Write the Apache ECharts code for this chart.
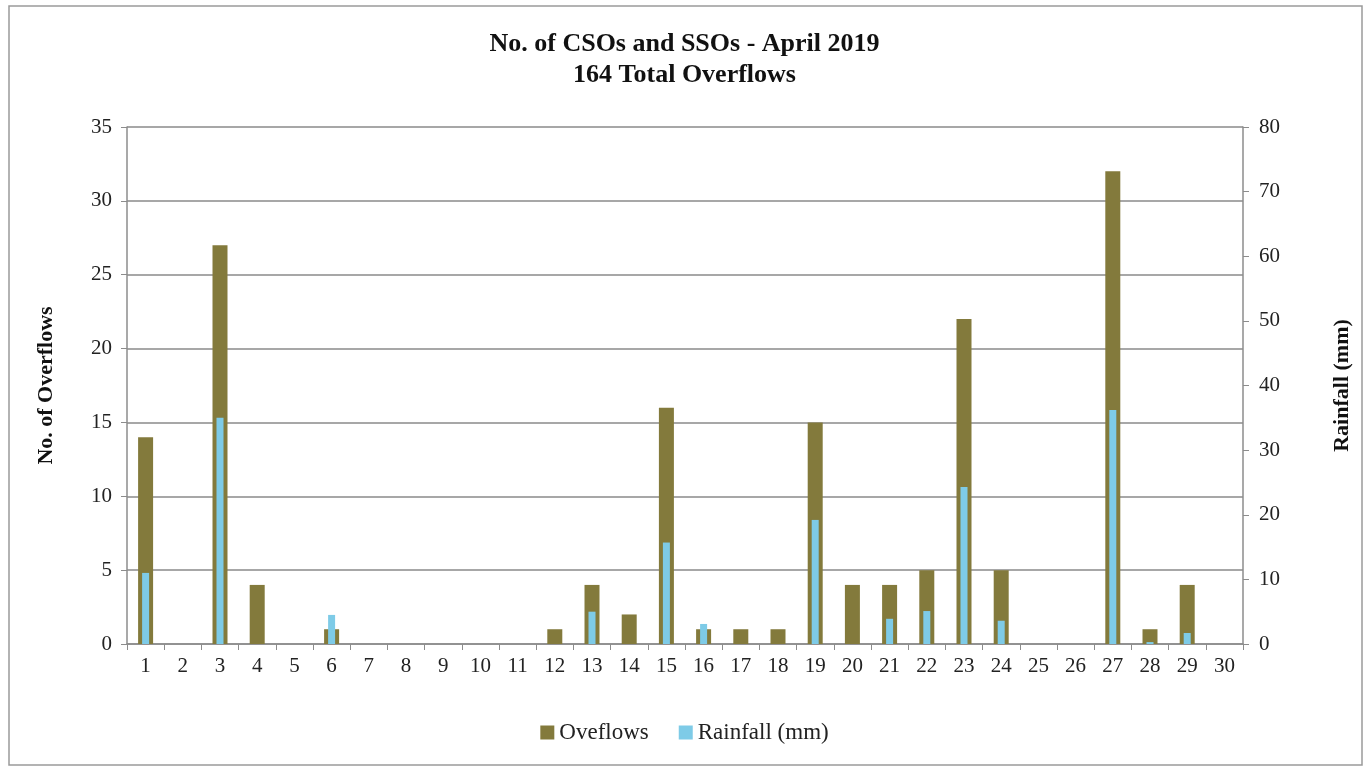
<!DOCTYPE html>
<html>
<head>
<meta charset="utf-8">
<script src="https://cdn.jsdelivr.net/npm/echarts@6/dist/echarts.min.js"></script>
<style>html,body{margin:0;padding:0;background:#fff}#c{width:1369px;height:770px}</style>
</head>
<body>
<div id="c"></div>
<script>
var days = ['1','2','3','4','5','6','7','8','9','10','11','12','13','14','15','16','17','18','19','20','21','22','23','24','25','26','27','28','29','30'];
var overflows = [14,0,27,4,0,1,0,0,0,0,0,1,4,2,16,1,1,1,15,4,4,5,22,5,0,0,32,1,4,0];
var rainfall = [11,0,35,0,0,4.5,0,0,0,0,0,0,5,0,15.7,3.1,0,0,19.2,0,3.9,5.1,24.3,3.6,0,0,36.2,0.3,1.7,0];
var leftTicks = [0,5,10,15,20,25,30,35];
var rightTicks = [0,10,20,30,40,50,60,70,80];

var serif = '"Liberation Serif","Times New Roman",serif';
var chart = echarts.init(document.getElementById('c'));
chart.setOption({
  animation: false,
  backgroundColor: '#fff',
  graphic: [{type:'rect', shape:{x:9,y:6,width:1353,height:759}, style:{fill:'none', stroke:'#9a9a9a', lineWidth:1.5}, silent:true}],
  title: {
    text: 'No. of CSOs and SSOs - April 2019\n164 Total Overflows',
    left: 'center', top: 24,
    textStyle: {fontFamily: serif, fontWeight: 'bold', fontSize: 26, lineHeight: 31, color: '#111'}
  },
  legend: {
    bottom: 21, left: 'center',
    itemWidth: 14, itemHeight: 14, itemGap: 30,
    textStyle: {fontFamily: serif, fontSize: 23, color: '#222'},
    data: [{name:'Oveflows', icon:'rect'}, {name:'Rainfall (mm)', icon:'rect'}]
  },
  grid: {left: 127, right: 126, top: 127, bottom: 126},
  xAxis: [{
    type: 'category', data: days,
    axisLine: {lineStyle: {color: '#8c8c8c', width: 1.5}},
    axisTick: {show: true, alignWithLabel: false, length: 6, lineStyle: {color:'#8c8c8c'}},
    axisLabel: {fontFamily: serif, fontSize: 21, color: '#222', margin: 12, interval: 0}
  }, {
    type: 'category', data: days, show: false
  }],
  yAxis: [{
    type: 'value', min: 0, max: 35, interval: 5,
    name: 'No. of Overflows', nameLocation: 'middle', nameGap: 70,
    nameTextStyle: {fontFamily: serif, fontWeight: 'bold', fontSize: 22, color: '#111'},
    axisLine: {show: true, lineStyle: {color: '#8c8c8c', width: 1.5}},
    axisTick: {show: true, length: 6, lineStyle: {color:'#8c8c8c'}},
    axisLabel: {fontFamily: serif, fontSize: 21, color: '#222', margin: 15},
    splitLine: {show: true, lineStyle: {color: '#8a8a8a', width: 1.5}}
  }, {
    type: 'value', min: 0, max: 80, interval: 10, position: 'right',
    name: 'Rainfall (mm)', nameLocation: 'middle', nameGap: 88,
    nameTextStyle: {fontFamily: serif, fontWeight: 'bold', fontSize: 22, color: '#111'},
    axisLine: {show: true, lineStyle: {color: '#8c8c8c', width: 1.5}},
    axisTick: {show: true, length: 6, lineStyle: {color:'#8c8c8c'}},
    axisLabel: {fontFamily: serif, fontSize: 21, color: '#222', margin: 16},
    splitLine: {show: false}
  }],
  series: [{
    name: 'Oveflows', type: 'bar', xAxisIndex: 0, yAxisIndex: 0,
    data: overflows, barWidth: 15,
    itemStyle: {color: '#837a3c', borderWidth: 0}
  }, {
    name: 'Rainfall (mm)', type: 'bar', xAxisIndex: 1, yAxisIndex: 1,
    data: rainfall, barWidth: 7, z: 3,
    itemStyle: {color: '#7ecbe7', borderWidth: 0}
  }]
});
</script>
</body>
</html>
